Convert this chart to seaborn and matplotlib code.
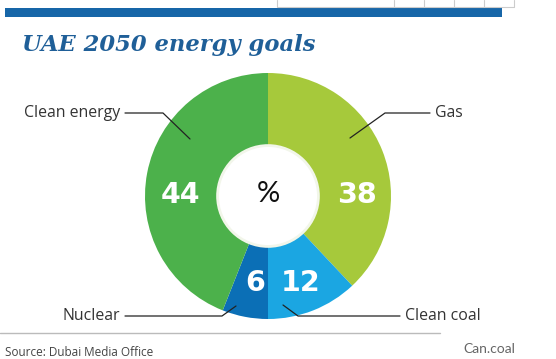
import matplotlib
matplotlib.use("Agg")
import matplotlib.pyplot as plt
import seaborn as sns

sns.set_theme(style="white")
plt.rcParams['font.family'] = ['Lato', 'DejaVu Sans']

categories = ["Gas", "Clean coal", "Nuclear", "Clean energy"]
values = [38, 12, 6, 44]
colors = ["#a6c93b", "#1ba6e2", "#0b6fb6", "#4cb14b"]

W, H = 556, 359
fig = plt.figure(figsize=(W / 100, H / 100), dpi=100)
fig.patch.set_facecolor("white")

# donut axes
cx, cy, R = 268, 196, 123
ax = fig.add_axes([(cx - R) / W, (H - cy - R) / H, 2 * R / W, 2 * R / H])
ax.pie(values, colors=colors, startangle=90, counterclock=False, radius=1,
       wedgeprops=dict(width=0.6, linewidth=0))
ax.add_patch(plt.Circle((0, 0), 0.41, facecolor="white", edgecolor="#f2f6ea", linewidth=2, zorder=5))
ax.set_xlim(-1, 1)
ax.set_ylim(-1, 1)
ax.set_aspect("equal")
ax.axis("off")
ax.text(0, 0.02, "%", ha="center", va="center", fontsize=21, color="#111111", zorder=6,
        family=['Lato', 'DejaVu Sans'])

# overlay axes in pixel coordinates (on top)
ov = fig.add_axes([0, 0, 1, 1], zorder=10)
ov.patch.set_alpha(0)
ov.set_xlim(0, W)
ov.set_ylim(H, 0)
ov.axis("off")

# top elements
ov.add_patch(plt.Rectangle((5, 8), 497, 9, facecolor="#1766a8", edgecolor="none"))
ov.plot([277, 277, 514, 514], [0, 7, 7, 0], color="#cccccc", lw=0.8)
for xx in [394, 424, 454, 484]:
    ov.plot([xx, xx], [0, 7], color="#cccccc", lw=0.8)
ov.text(22, 45, "UAE 2050 energy goals", fontsize=16.3, fontweight="bold", fontstyle="italic",
        family="DejaVu Serif", color="#1f5f98", va="center", ha="left")

# number labels
num_pos = [(357, 195), (301, 283), (255, 283), (180, 195)]
for v, (x, y) in zip(values, num_pos):
    ov.text(x, y, str(v), fontsize=20.5, fontweight="bold", color="white",
            ha="center", va="center", family="DejaVu Sans", zorder=7)

# category labels with leader lines
lab = {
    "Clean energy": dict(tx=120, ty=113, ha="right", line=[(125, 113), (163, 113), (190, 139)]),
    "Gas": dict(tx=435, ty=113, ha="left", line=[(430, 113), (385, 113), (350, 138)]),
    "Nuclear": dict(tx=120, ty=316, ha="right", line=[(125, 316), (222, 316), (236, 306)]),
    "Clean coal": dict(tx=405, ty=316, ha="left", line=[(400, 316), (298, 316), (283, 305)]),
}
for name in categories:
    d = lab[name]
    ov.text(d["tx"], d["ty"], name, fontsize=11.4, color="#333333", ha=d["ha"], va="center",
            family=["Open Sans", "DejaVu Sans"])
    xs, ys = zip(*d["line"])
    ov.plot(xs, ys, color="#222222", lw=0.9, zorder=8)

# footer
ov.plot([0, 440], [333, 333], color="#bbbbbb", lw=1)
ov.text(5, 352, "Source: Dubai Media Office", fontsize=8.5, color="#444444", va="center", ha="left",
        family=["Open Sans", "DejaVu Sans"])
ov.text(515, 349, "Can.coal", fontsize=10, color="#666666", va="center", ha="right")

fig.savefig("out.png", dpi=100, facecolor="white")
